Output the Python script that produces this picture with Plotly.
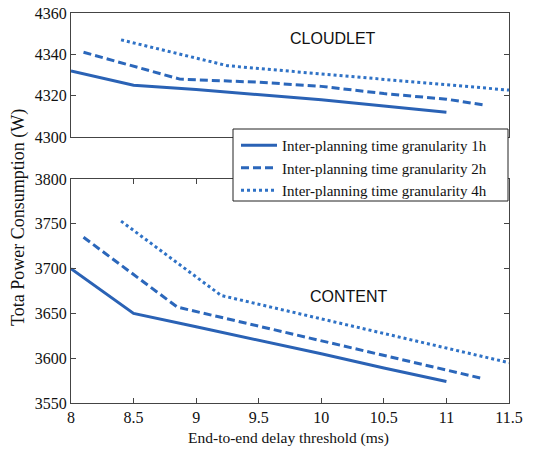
import plotly.graph_objects as go

# ---- data ----
x_1h = [8, 8.5, 9, 9.5, 10, 10.5, 11]
cloudlet_1h = [4332, 4325, 4323, 4320.6, 4318, 4315, 4312]
content_1h = [3700, 3650, 3635, 3620, 3605, 3589, 3574]

x_2h_cloud = [8.1, 8.87, 9.5, 10, 10.5, 11, 11.3]
cloudlet_2h = [4341, 4328, 4326.5, 4324.5, 4321, 4318.3, 4315.5]
x_2h_content = [8.1, 8.85, 11.3]
content_2h = [3735, 3657, 3577]

x_4h_cloud = [8.4, 9.25, 10, 10.5, 11, 11.5]
cloudlet_4h = [4347, 4334.5, 4330.5, 4328, 4325.3, 4322.7]
x_4h_content = [8.4, 9.2, 11.5]
content_4h = [3753, 3670, 3595]

legend_names = ["Inter-planning time granularity 1h",
                "Inter-planning time granularity 2h",
                "Inter-planning time granularity 4h"]
x_ticks = [8, 8.5, 9, 9.5, 10, 10.5, 11, 11.5]
x_ticklabels = ["8", "8.5", "9", "9.5", "10", "10.5", "11", "11.5"]

SERIF = "Liberation Serif, Times New Roman, serif"
SANS = "Liberation Sans, Arial, sans-serif"
c1, c2, c3 = "#2a62b5", "#2b67bb", "#2f72c6"
dash2 = "8px,4px"
dot3 = "3px,3px"

W, H = 549, 449
ML, MR, MT, MB = 71, 40, 13, 46
PW, PH = W - ML - MR, H - MT - MB  # 438 x 390


def px(xw):
    return (xw - ML) / PW


def py(yw):
    return 1 - (yw - MT) / PH


fig = go.Figure()
# bottom panel (CONTENT)
fig.add_trace(go.Scatter(x=x_1h, y=content_1h, mode="lines", name=legend_names[0],
                         line=dict(color=c1, width=3), xaxis="x", yaxis="y"))
fig.add_trace(go.Scatter(x=x_2h_content, y=content_2h, mode="lines", name=legend_names[1],
                         line=dict(color=c2, width=3, dash=dash2), xaxis="x", yaxis="y"))
fig.add_trace(go.Scatter(x=x_4h_content, y=content_4h, mode="lines", name=legend_names[2],
                         line=dict(color=c3, width=3, dash=dot3), xaxis="x", yaxis="y"))
# top panel (CLOUDLET)
fig.add_trace(go.Scatter(x=x_1h, y=cloudlet_1h, mode="lines", showlegend=False,
                         line=dict(color=c1, width=3), xaxis="x2", yaxis="y2"))
fig.add_trace(go.Scatter(x=x_2h_cloud, y=cloudlet_2h, mode="lines", showlegend=False,
                         line=dict(color=c2, width=3, dash=dash2), xaxis="x2", yaxis="y2"))
fig.add_trace(go.Scatter(x=x_4h_cloud, y=cloudlet_4h, mode="lines", showlegend=False,
                         line=dict(color=c3, width=3, dash=dot3), xaxis="x2", yaxis="y2"))

axis_common = dict(showline=True, linecolor="#444", linewidth=1, showgrid=False,
                   zeroline=False, tickfont=dict(family=SERIF, size=16, color="#111"))

fig.update_layout(
    width=W, height=H,
    margin=dict(l=ML, r=MR, t=MT, b=MB, autoexpand=False),
    paper_bgcolor="white", plot_bgcolor="white",
    xaxis=dict(domain=[0, 1], range=[8, 11.5], anchor="y", tickmode="array",
               tickvals=x_ticks, ticktext=x_ticklabels, ticks="inside", ticklen=5,
               tickcolor="#444", mirror="ticks", **axis_common),
    yaxis=dict(domain=[0, py(179)], range=[3550, 3800], anchor="x", tickmode="array",
               tickvals=[3550, 3600, 3650, 3700, 3750, 3800], ticks="inside", ticklen=5,
               tickcolor="#444", mirror="ticks", **axis_common),
    xaxis2=dict(domain=[0, 1], range=[8, 11.5], anchor="y2", showticklabels=False,
                ticks="", mirror=True, matches="x", **axis_common),
    yaxis2=dict(domain=[py(137), 1], range=[4300, 4360], anchor="x2", tickmode="array",
                tickvals=[4300, 4320, 4340, 4360], ticks="inside", ticklen=5,
                tickcolor="#444", mirror="ticks", **axis_common),
    legend=dict(x=px(236), y=py(129), xanchor="left", yanchor="top",
                bgcolor="rgba(0,0,0,0)", borderwidth=0,
                font=dict(family=SERIF, size=15, color="#111"),
                itemwidth=36, tracegroupgap=0),
    showlegend=True,
    shapes=[dict(type="rect", xref="paper", yref="paper",
                 x0=px(233), x1=px(508), y0=py(201), y1=py(129),
                 line=dict(color="#222", width=1), fillcolor="white", layer="above")],
    annotations=[
        dict(text="CLOUDLET", x=px(333), y=py(38), xref="paper", yref="paper",
             xanchor="center", yanchor="middle",
             showarrow=False, font=dict(family=SANS, size=16, color="#111")),
        dict(text="CONTENT", x=px(349), y=py(296), xref="paper", yref="paper",
             xanchor="center", yanchor="middle",
             showarrow=False, font=dict(family=SANS, size=16, color="#111")),
        dict(text="Tota Power Consumption (W)", x=px(18), y=py(218),
             xref="paper", yref="paper", textangle=-90, showarrow=False,
             xanchor="center", yanchor="middle",
             font=dict(family=SERIF, size=18, color="#111")),
        dict(text="End-to-end delay threshold (ms)", x=px(288), y=py(438),
             xref="paper", yref="paper", showarrow=False, xanchor="center", yanchor="middle",
             font=dict(family=SERIF, size=15.5, color="#111")),
    ],
)

fig.write_html("out.html", config={"displayModeBar": False},
               post_script="document.body.style.margin='0';document.body.style.overflow='hidden';")
